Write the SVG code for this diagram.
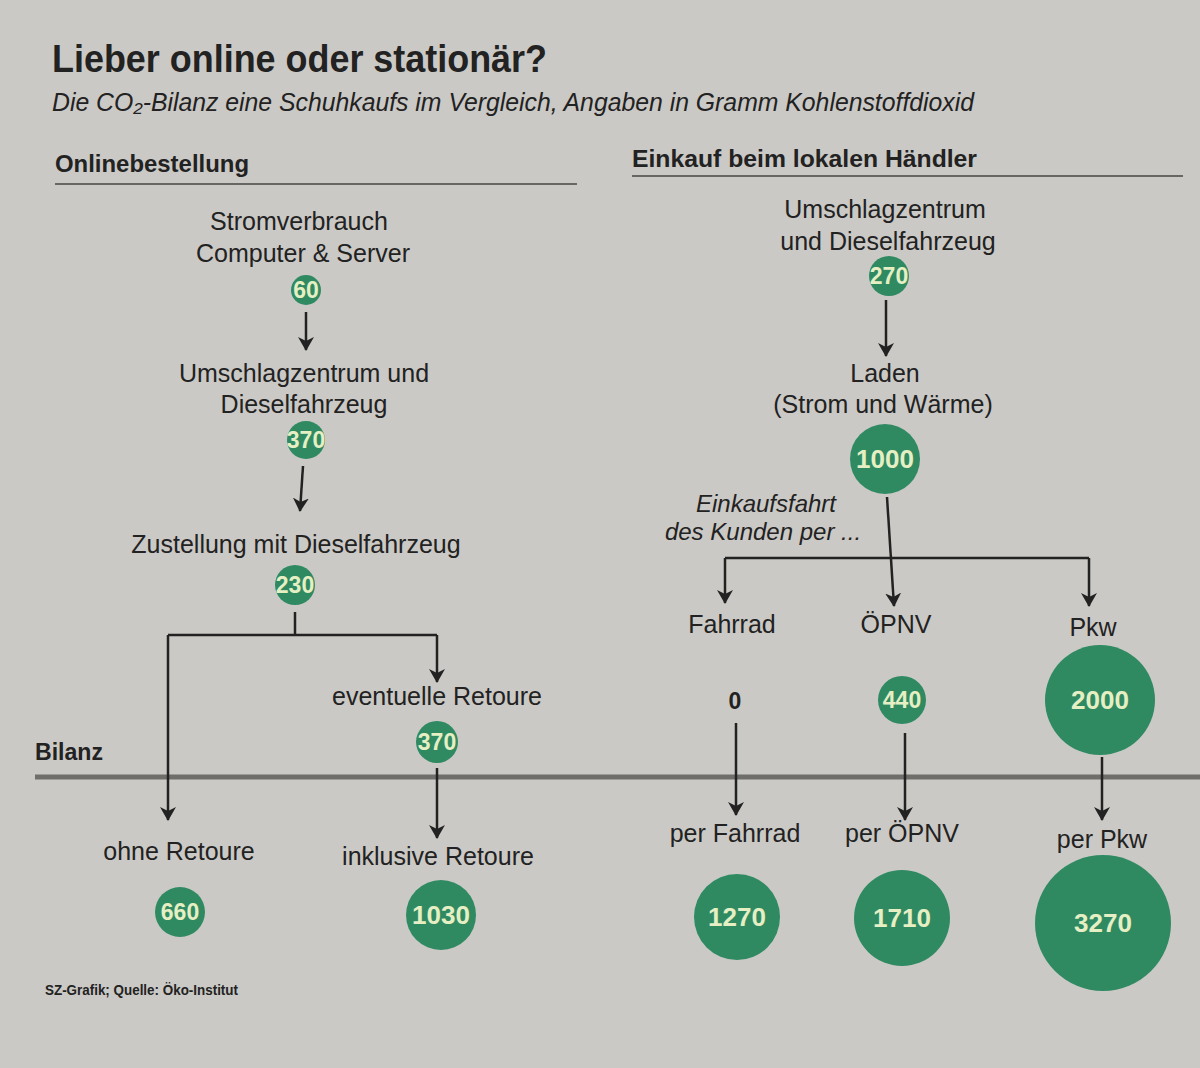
<svg xmlns="http://www.w3.org/2000/svg" width="1200" height="1068" viewBox="0 0 1200 1068">
<defs>
<style>
.t{font-family:"Liberation Sans","Noto Sans",sans-serif;fill:#222;font-size:25px;text-anchor:middle}
.h{font-family:"Liberation Sans","Noto Sans",sans-serif;fill:#222;font-weight:bold;font-size:24px}
.it{font-family:"Liberation Sans","Noto Sans",sans-serif;fill:#222;font-style:italic;font-size:24px;text-anchor:middle}
.c{fill:#2f8a62}
.n{font-family:"Liberation Sans","Noto Sans",sans-serif;fill:#e6efc4;font-weight:bold;font-size:26px;text-anchor:middle}
.s{font-size:23px}
.ln{fill:none;stroke:#222;stroke-width:2.5}
</style>
<marker id="ah" viewBox="0 0 14 16" refX="13" refY="8" markerWidth="14" markerHeight="16" markerUnits="userSpaceOnUse" orient="auto">
<path d="M0,0 L14,8 L0,16 L4,8 z" fill="#222"/>
</marker>
</defs>
<rect width="1200" height="1068" fill="#cbc9c5"/>

<g id="header">
<text x="52" y="72" class="h" style="font-size:38px" textLength="495" lengthAdjust="spacingAndGlyphs">Lieber online oder stationär?</text>
<text x="52" y="111" class="h" style="font-weight:normal;font-style:italic;font-size:25px" textLength="922" lengthAdjust="spacingAndGlyphs">Die CO₂-Bilanz eine Schuhkaufs im Vergleich, Angaben in Gramm Kohlenstoffdioxid</text>
<text x="55" y="172" class="h" textLength="194" lengthAdjust="spacingAndGlyphs">Onlinebestellung</text>
<line x1="55" y1="184" x2="577" y2="184" stroke="#444" stroke-width="1.5"/>
<text x="632" y="167" class="h" textLength="345" lengthAdjust="spacingAndGlyphs">Einkauf beim lokalen Händler</text>
<line x1="632" y1="176" x2="1183" y2="176" stroke="#444" stroke-width="1.5"/>
<text x="35" y="760" class="h" textLength="68" lengthAdjust="spacingAndGlyphs">Bilanz</text>
<line x1="35" y1="777" x2="1200" y2="777" stroke="#706e6b" stroke-width="5"/>
<text x="45" y="995" class="h" style="font-size:15px" textLength="193" lengthAdjust="spacingAndGlyphs">SZ-Grafik; Quelle: Öko-Institut</text>
</g>

<g id="connectors">
<line class="ln" x1="306" y1="312" x2="306" y2="350" marker-end="url(#ah)"/>
<line class="ln" x1="303" y1="466" x2="300" y2="511" marker-end="url(#ah)"/>
<polyline class="ln" points="295,612 295,635"/>
<polyline class="ln" points="168,635 437,635"/>
<polyline class="ln" points="168,635 168,820" marker-end="url(#ah)"/>
<polyline class="ln" points="437,635 437,682" marker-end="url(#ah)"/>
<line class="ln" x1="437" y1="768" x2="437" y2="838" marker-end="url(#ah)"/>
<line class="ln" x1="886" y1="300" x2="886" y2="356" marker-end="url(#ah)"/>
<line class="ln" x1="887" y1="497" x2="894" y2="606" marker-end="url(#ah)"/>
<polyline class="ln" points="725,558 1089,558"/>
<polyline class="ln" points="725,558 725,603" marker-end="url(#ah)"/>
<polyline class="ln" points="1089,558 1089,606" marker-end="url(#ah)"/>
<line class="ln" x1="736" y1="723" x2="736" y2="815" marker-end="url(#ah)"/>
<line class="ln" x1="905" y1="733" x2="905" y2="820" marker-end="url(#ah)"/>
<line class="ln" x1="1102" y1="757" x2="1102" y2="820" marker-end="url(#ah)"/>
</g>

<g id="n-strom">
<text x="299" y="230" class="t">Stromverbrauch</text>
<text x="303" y="262" class="t">Computer &amp; Server</text>
<circle cx="306" cy="290" r="15" class="c"/>
<text x="306" y="298" class="n s">60</text>
</g>
<g id="n-umschlag-online">
<text x="304" y="382" class="t">Umschlagzentrum und</text>
<text x="304" y="413" class="t">Dieselfahrzeug</text>
<circle cx="306" cy="440" r="19" class="c"/>
<text x="306" y="448" class="n s">370</text>
</g>
<g id="n-zustellung">
<text x="296" y="553" class="t">Zustellung mit Dieselfahrzeug</text>
<circle cx="295" cy="585" r="20" class="c"/>
<text x="295" y="593" class="n s">230</text>
</g>
<g id="n-retoure">
<text x="437" y="705" class="t">eventuelle Retoure</text>
<circle cx="437" cy="742" r="21" class="c"/>
<text x="437" y="750" class="n s">370</text>
</g>
<g id="n-ohne">
<text x="179" y="860" class="t">ohne Retoure</text>
<circle cx="180" cy="912" r="25" class="c"/>
<text x="180" y="920" class="n s">660</text>
</g>
<g id="n-inklusive">
<text x="438" y="865" class="t">inklusive Retoure</text>
<circle cx="441" cy="915" r="35" class="c"/>
<text x="441" y="924" class="n">1030</text>
</g>

<g id="n-umschlag-lokal">
<text x="885" y="218" class="t">Umschlagzentrum</text>
<text x="888" y="250" class="t">und Dieselfahrzeug</text>
<circle cx="889" cy="276" r="20" class="c"/>
<text x="889" y="284" class="n s">270</text>
</g>
<g id="n-laden">
<text x="885" y="382" class="t">Laden</text>
<text x="883" y="413" class="t">(Strom und Wärme)</text>
<circle cx="885" cy="459" r="35" class="c"/>
<text x="885" y="468" class="n">1000</text>
</g>
<g id="n-einkaufsfahrt">
<text x="766" y="512" class="it">Einkaufsfahrt</text>
<text x="763" y="540" class="it">des Kunden per ...</text>
</g>
<g id="n-fahrrad">
<text x="732" y="633" class="t">Fahrrad</text>
<text x="735" y="709" class="n s" style="fill:#222">0</text>
</g>
<g id="n-oepnv">
<text x="896" y="633" class="t">ÖPNV</text>
<circle cx="902" cy="700" r="24" class="c"/>
<text x="902" y="708" class="n s">440</text>
</g>
<g id="n-pkw">
<text x="1093" y="636" class="t">Pkw</text>
<circle cx="1100" cy="700" r="55" class="c"/>
<text x="1100" y="709" class="n">2000</text>
</g>
<g id="n-per-fahrrad">
<text x="735" y="842" class="t">per Fahrrad</text>
<circle cx="737" cy="917" r="43" class="c"/>
<text x="737" y="926" class="n">1270</text>
</g>
<g id="n-per-oepnv">
<text x="902" y="842" class="t">per ÖPNV</text>
<circle cx="902" cy="918" r="48" class="c"/>
<text x="902" y="927" class="n">1710</text>
</g>
<g id="n-per-pkw">
<text x="1102" y="848" class="t">per Pkw</text>
<circle cx="1103" cy="923" r="68" class="c"/>
<text x="1103" y="932" class="n">3270</text>
</g>
</svg>
